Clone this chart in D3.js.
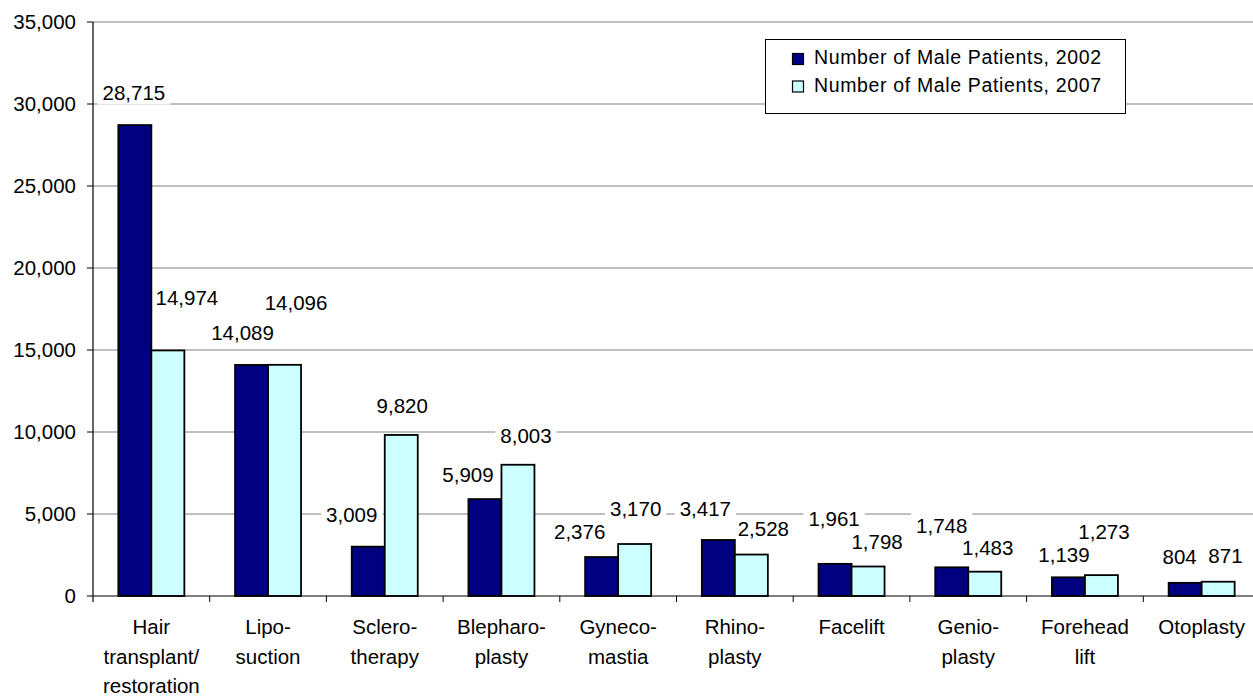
<!DOCTYPE html>
<html>
<head>
<meta charset="utf-8">
<script src="https://cdn.jsdelivr.net/npm/d3@7"></script>
<style>
  body { margin: 0; background: #fff; }
  svg { display: block; font-family: "Liberation Sans", Arial, sans-serif; }
</style>
</head>
<body>
<svg id="chart" width="1253" height="696"></svg>
<script>
// chart data
const categories = [
  ["Hair", "transplant/", "restoration"],
  ["Lipo-", "suction"],
  ["Sclero-", "therapy"],
  ["Blepharo-", "plasty"],
  ["Gyneco-", "mastia"],
  ["Rhino-", "plasty"],
  ["Facelift"],
  ["Genio-", "plasty"],
  ["Forehead", "lift"],
  ["Otoplasty"]
];
const patients2002 = [28715, 14089, 3009, 5909, 2376, 3417, 1961, 1748, 1139, 804];
const patients2007 = [14974, 14096, 9820, 8003, 3170, 2528, 1798, 1483, 1273, 871];
const seriesNames = ["Number of Male Patients, 2002", "Number of Male Patients, 2007"];
const yTicks = [0, 5000, 10000, 15000, 20000, 25000, 30000, 35000];

// label nudges (dx, dy from bar top centre) - labels were dragged in the original
const nudge2002 = [[-1, -25], [-9, -25], [-16.5, -25], [-17, -17.4], [-22, -18],
                   [-13, -24.3], [-1, -37.8], [-10, -34], [-4.5, -15.6], [-5.5, -18.5]];
const nudge2007 = [[19, -45], [11.5, -55], [1, -21.7], [8, -21.5], [1, -28.3],
                   [12, -18.8], [9, -17.5], [3, -16.7], [2.5, -36], [7.3, -19]];

const colors = ["#000080", "#CCFFFF"];
const svg = d3.select("#chart");
const plotLeft = 93, plotTop = 22, plotBottom = 596, bandW = 116.7, barW = 33;

const x = d3.scaleBand()
  .domain(d3.range(categories.length))
  .range([plotLeft, plotLeft + bandW * categories.length])
  .padding(0);
const y = d3.scaleLinear().domain([0, 35000]).range([plotBottom, plotTop]);
const fmt = d3.format(",");

// gridlines
svg.append("g")
  .selectAll("line")
  .data(yTicks.filter(d => d > 0))
  .enter()
  .append("line")
  .attr("x1", plotLeft).attr("x2", 1253)
  .attr("y1", d => y(d)).attr("y2", d => y(d))
  .attr("stroke", "#808080").attr("stroke-width", 1);

// label data
const labels = [];
categories.forEach((c, i) => {
  const cx = x(i) + x.bandwidth() / 2;
  labels.push({ v: patients2002[i], x: cx - barW / 2 + nudge2002[i][0], y: y(patients2002[i]) + nudge2002[i][1] });
  labels.push({ v: patients2007[i], x: cx + barW / 2 + nudge2007[i][0], y: y(patients2007[i]) + nudge2007[i][1] });
});

// white boxes behind labels (hide gridlines, but stay behind bars)
const bgLayer = svg.append("g");

// bars
const series = [patients2002, patients2007];
series.forEach((vals, s) => {
  svg.append("g")
    .selectAll("rect")
    .data(vals)
    .enter()
    .append("rect")
    .attr("x", (d, i) => x(i) + x.bandwidth() / 2 - barW + s * barW)
    .attr("y", d => y(d))
    .attr("width", barW)
    .attr("height", d => plotBottom - y(d))
    .attr("fill", colors[s])
    .attr("stroke", "#000")
    .attr("stroke-width", 1.8);
});

// value labels
const labelText = svg.append("g")
  .selectAll("text")
  .data(labels)
  .enter()
  .append("text")
  .attr("x", d => d.x)
  .attr("y", d => d.y)
  .attr("text-anchor", "middle")
  .attr("font-size", 20.5)
  .attr("fill", "#000")
  .text(d => fmt(d.v));

labelText.each(function (d) {
  const w = this.getComputedTextLength();
  bgLayer.append("rect")
    .attr("x", d.x - w / 2 - 5)
    .attr("y", d.y - 20.5)
    .attr("width", w + 10)
    .attr("height", 25)
    .attr("fill", "#fff");
});

// axes
svg.append("line")
  .attr("x1", plotLeft).attr("x2", plotLeft)
  .attr("y1", plotTop).attr("y2", plotBottom + 6)
  .attr("stroke", "#000").attr("stroke-width", 1.2);
svg.append("line")
  .attr("x1", plotLeft).attr("x2", 1253)
  .attr("y1", plotBottom).attr("y2", plotBottom)
  .attr("stroke", "#000").attr("stroke-width", 1.2);

// y ticks + labels
const yAxis = svg.append("g");
yAxis.selectAll("line")
  .data(yTicks)
  .enter()
  .append("line")
  .attr("x1", plotLeft - 6).attr("x2", plotLeft)
  .attr("y1", d => y(d)).attr("y2", d => y(d))
  .attr("stroke", "#000");
yAxis.selectAll("text")
  .data(yTicks)
  .enter()
  .append("text")
  .attr("x", 76)
  .attr("y", d => y(d) + 7)
  .attr("text-anchor", "end")
  .attr("font-size", 20.5)
  .text(d => fmt(d));

// x ticks at band edges
svg.append("g")
  .selectAll("line")
  .data(d3.range(1, categories.length + 1))
  .enter()
  .append("line")
  .attr("x1", i => plotLeft + i * bandW).attr("x2", i => plotLeft + i * bandW)
  .attr("y1", plotBottom).attr("y2", plotBottom + 6)
  .attr("stroke", "#000");

// category labels
svg.append("g")
  .selectAll("text")
  .data(categories)
  .enter()
  .append("text")
  .attr("text-anchor", "middle")
  .attr("font-size", 20.5)
  .each(function (lines, i) {
    const t = d3.select(this);
    lines.forEach((ln, k) => {
      t.append("tspan")
        .attr("x", x(i) + x.bandwidth() / 2)
        .attr("y", 634 + k * 29.5)
        .text(ln);
    });
  });

// legend
const legend = svg.append("g");
legend.append("rect")
  .attr("x", 765.5).attr("y", 39.5)
  .attr("width", 360).attr("height", 74)
  .attr("fill", "#fff").attr("stroke", "#000");
seriesNames.forEach((name, s) => {
  legend.append("rect")
    .attr("x", 792.5).attr("y", 53.5 + s * 27.5)
    .attr("width", 11).attr("height", 11)
    .attr("fill", colors[s]).attr("stroke", "#000").attr("stroke-width", 1.2);
  legend.append("text")
    .attr("x", 814).attr("y", 64 + s * 27.5)
    .attr("font-size", 19.5)
    .attr("textLength", 287)
    .attr("lengthAdjust", "spacing")
    .text(name);
});
</script>
</body>
</html>
